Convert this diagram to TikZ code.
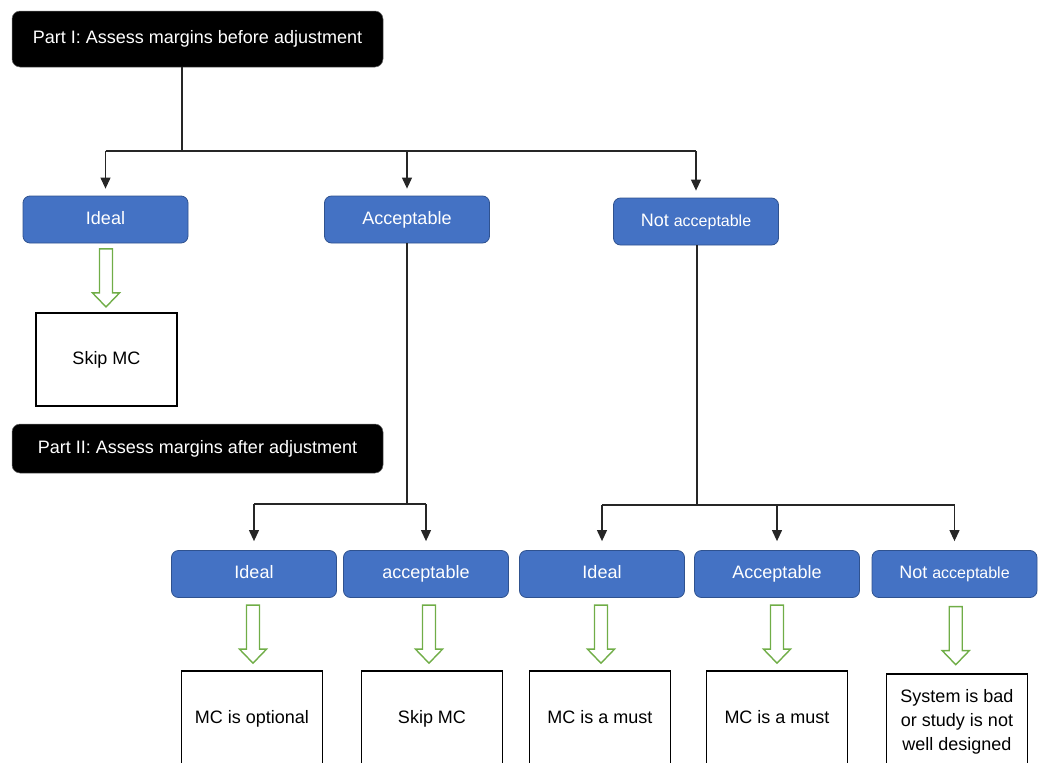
\documentclass[tikz,border=0pt]{standalone}
\usepackage{fontspec}
\setmainfont{Liberation Sans}
\usetikzlibrary{positioning, arrows.meta, calc}

\definecolor{boxblue}{HTML}{4472C4}
\definecolor{boxedge}{HTML}{2F528F}
\definecolor{arrowgreen}{HTML}{70AD47}

\tikzset{
  partbox/.style={draw=black!60, fill=black, text=white, rounded corners=8pt, minimum width=371pt, line width=0.5pt, text height=13pt, text depth=4pt},
  choice/.style={draw=boxedge, fill=boxblue, text=white, rounded corners=7pt, minimum width=165pt, minimum height=47pt, line width=0.8pt, text height=13pt, text depth=4pt},
  result/.style={draw=black, fill=white, minimum width=141pt, line width=1.1pt, align=center},
  oneline/.style={text height=13pt, text depth=4pt},
  link/.style={draw=black!85, line width=1.1pt},
  linkarrow/.style={link, -{Triangle[width=10pt,length=11pt]}, shorten >=7pt},
  fatarrow/.pic={
    \draw[arrowgreen, line width=1.4pt, line join=miter]
      (-6.5,-29) -- (6.5,-29) -- (6.5,15) -- (13.5,15) -- (0,29)
      -- (-13.5,15) -- (-6.5,15) -- cycle;
  }
}

\begin{document}
\begin{tikzpicture}[x=1pt, y=-1pt, font=\fontsize{18}{24}\selectfont, node distance=145pt]
	\useasboundingbox (0,0) rectangle (1045,763);
	\clip (0,0) rectangle (1045,763);
	
	% Part I
	\node[partbox, minimum height=56pt] (part1) at (197.5,39) {Part I: Assess margins before adjustment};
	
	% first assessment
	\node[choice] (ideal) at (105.5,219.5) {Ideal};
	\node[choice] (accept) at (407,219.5) {Acceptable};
	\node[choice] (notaccept) at (696,221.5) {Not {\fontsize{16}{24}\selectfont acceptable}};
	\node[result, oneline, minimum height=93pt, below of=ideal, node distance=140pt, xshift=1pt] (skip) {Skip MC};
	
	% Part II
	\node[partbox, minimum height=49pt] (part2) at (197.5,448.5) {Part II: Assess margins after adjustment};
	
	% second assessment
	\node[choice] (accIdeal) at (254,574) {Ideal};
	\node[choice] (accAccept) at (426,574) {acceptable};
	\node[choice] (notIdeal) at (602,574) {Ideal};
	\node[choice] (notAccept) at (777,574) {Acceptable};
	\node[choice] (notNot) at (954.5,574) {Not {\fontsize{16}{24}\selectfont acceptable}};
	
	% outcomes
	\node[result, oneline, minimum height=96pt, below of=accIdeal, xshift=-2pt] (optional) {MC is optional};
	\node[result, oneline, minimum height=96pt, below of=accAccept, xshift=6pt] (skipb) {Skip MC};
	\node[result, oneline, minimum height=96pt, below of=notIdeal, xshift=-2pt] (mustA) {MC is a must};
	\node[result, oneline, minimum height=96pt, below of=notAccept] (mustB) {MC is a must};
	\node[result, minimum height=96pt, below of=notNot, xshift=2.5pt, yshift=-3pt] (bad) {System is bad\\or study is not\\well designed};
	
	% connections
	\coordinate (split) at (182,151);
	\coordinate (accsplit) at (407,504);
	\coordinate (notsplit) at (697,505);
	
	\draw[link] (part1.south -| split) -- (split);
	\draw[link] (ideal |- split) -- (notaccept |- split);
	\foreach \n in {ideal, accept, notaccept}
		\draw[linkarrow] (\n |- split) -- (\n.north);
	
	\draw[link] (accept.south) -- (accsplit);
	\draw[link] (accIdeal |- accsplit) -- (accAccept |- accsplit);
	\foreach \n in {accIdeal, accAccept}
		\draw[linkarrow, shorten >=9pt] (\n |- accsplit) -- (\n.north);
	
	\draw[link] (notaccept.south -| notsplit) -- (notsplit);
	\draw[link] (notIdeal |- notsplit) -- (notNot |- notsplit);
	\foreach \n in {notIdeal, notAccept, notNot}
		\draw[linkarrow, shorten >=9pt] (\n |- notsplit) -- (\n.north);
	
	% green arrows
	\pic at ($(ideal.south)!0.5!(skip.north)$) {fatarrow};
	\foreach \a/\b in {accIdeal/optional, accAccept/skipb, notIdeal/mustA, notAccept/mustB, notNot/bad}
		\pic at ($(\a.south)!0.5!(\b.north)$) {fatarrow};
	
\end{tikzpicture}
\end{document}
